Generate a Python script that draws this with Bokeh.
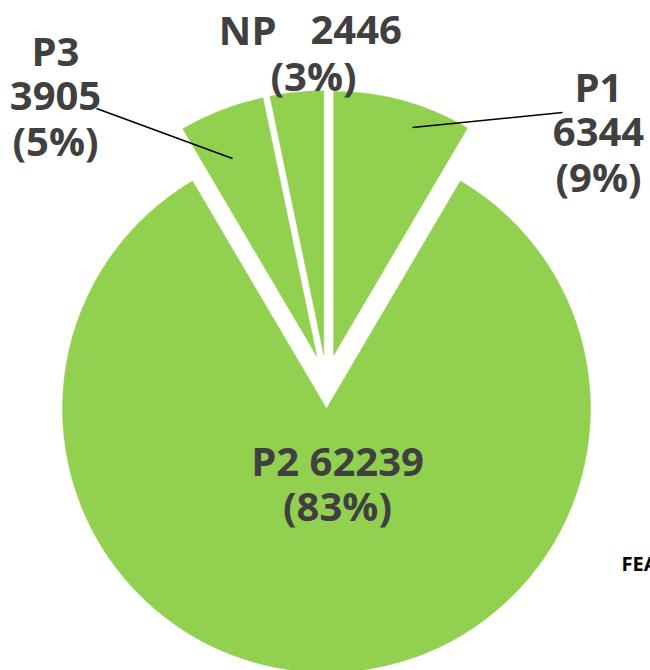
import math
from bokeh.plotting import figure
from bokeh.models import Range1d
from bokeh.core.properties import value
from bokeh.embed import file_html
from bokeh.resources import INLINE

# ---- data ----
categories = ["P1", "P2", "P3", "NP"]
values = [6344, 62239, 3905, 2446]
pct_labels = ["9%", "83%", "5%", "3%"]
title_text = "FEATURES"

total = sum(values)

GREEN = "#92D050"
TXT = "#404040"
FONT = value("Open Sans")

p = figure(width=650, height=670, output_backend="svg", toolbar_location=None,
           x_range=Range1d(0, 650), y_range=Range1d(-670, 0),
           min_border=0)
p.axis.visible = False
p.grid.visible = False
p.outline_line_color = None
p.background_fill_color = "white"

# pie geometry (pixel-like data units; y is negated)
cx, cy = 326, -381
R = 264
explode = 27

start = 0.0
for v in values:
    frac = v / total
    a0 = start * 2 * math.pi
    a1 = (start + frac) * 2 * math.pi
    mid = (a0 + a1) / 2
    ox = cx + explode * math.sin(mid)
    oy = cy + explode * math.cos(mid)
    p.wedge(x=ox, y=oy, radius=R,
            start_angle=math.pi / 2 - a0, end_angle=math.pi / 2 - a1,
            direction="clock", fill_color=GREEN, line_color=GREEN, line_width=0.5)
    start += frac

def txt(x, y, s, size="40px", align="center", color=TXT):
    p.text(x=[x], y=[-y], text=[s], text_font=FONT, text_font_style="bold",
           text_font_size=size, text_color=color, text_align=align,
           text_baseline="alphabetic")

# leader lines
p.line(x=[412, 562], y=[-127, -112], line_color="black", line_width=1.5)
p.line(x=[96, 232], y=[-108, -158], line_color="black", line_width=1.5)

# P1 label
txt(598, 86, categories[0])
txt(598, 131, str(values[0]))
txt(598, 176, f"({pct_labels[0]})")
# P2 label
txt(337, 460, f"{categories[1]} {values[1]}")
txt(337, 505, f"({pct_labels[1]})")
# P3 label
txt(55, 50, categories[2])
txt(55, 95, str(values[2]))
txt(55, 140, f"({pct_labels[2]})")
# NP label
txt(276, 29, categories[3], align="right")
txt(310, 29, str(values[3]), align="left")
txt(313, 75, f"({pct_labels[3]})")

# cut-off text at right
txt(621, 563, title_text, size="20px", align="left", color="black")

open("out.html", "w").write(file_html(p, INLINE))
